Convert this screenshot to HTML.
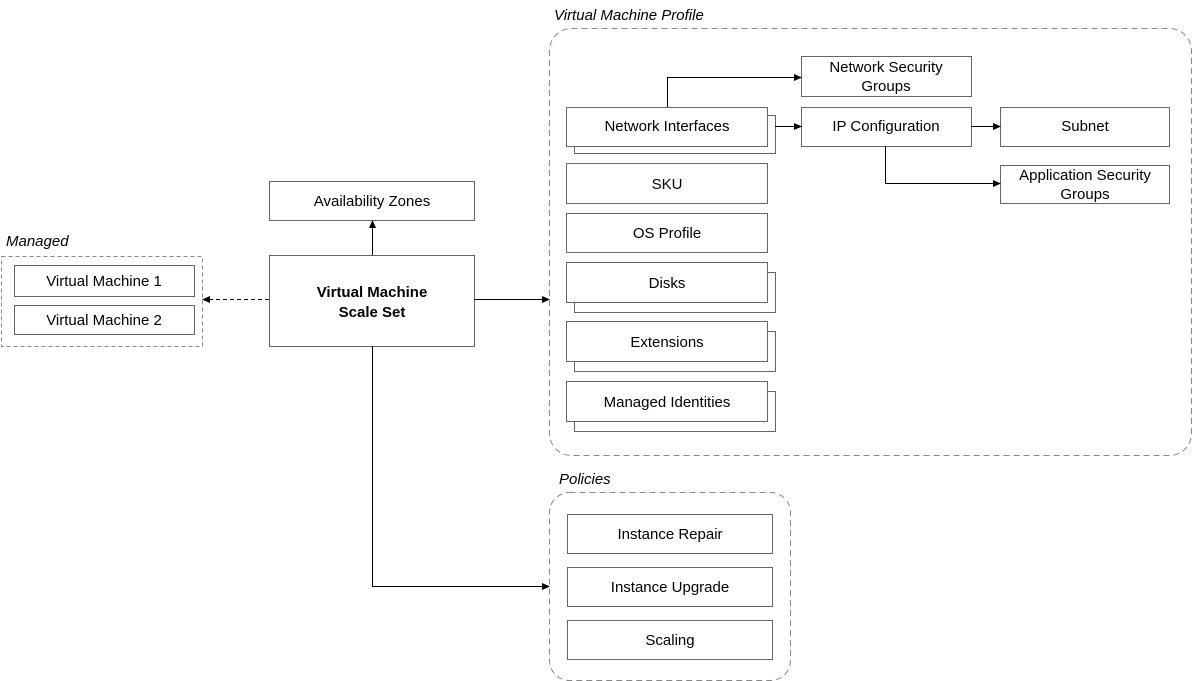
<!DOCTYPE html>
<html><head><style>body{margin:0;background:#fff}svg{display:block}text{font-family:"Liberation Sans",sans-serif;font-size:15px;fill:#000}</style></head>
<body>
<svg width="1193" height="681" viewBox="0 0 1193 681" xmlns="http://www.w3.org/2000/svg">
<defs><marker id="a" markerWidth="8" markerHeight="8" refX="7" refY="4" orient="auto" markerUnits="userSpaceOnUse"><path d="M0,0.5 L8,4 L0,7.5 z" fill="#000"/></marker></defs>
<g fill="#fff" stroke="#666" stroke-width="1">
<rect x="1.5" y="256.5" width="201" height="90" stroke-dasharray="4,3" stroke="#888"/>
<rect x="549.5" y="28.5" width="642" height="427" rx="22" stroke-dasharray="6,4" stroke="#888"/>
<rect x="549.5" y="492.5" width="241" height="188" rx="20" stroke-dasharray="6,4" stroke="#888"/>
<rect x="14.5" y="265.5" width="180" height="31"/>
<rect x="14.5" y="305.5" width="180" height="29"/>
<rect x="269.5" y="181.5" width="205" height="39"/>
<rect x="269.5" y="255.5" width="205" height="91"/>
<rect x="574.5" y="115.5" width="201" height="38"/>
<rect x="566.5" y="107.5" width="201" height="39"/>
<rect x="566.5" y="163.5" width="201" height="40"/>
<rect x="566.5" y="213.5" width="201" height="39"/>
<rect x="574.5" y="272.5" width="201" height="40"/>
<rect x="566.5" y="262.5" width="201" height="40"/>
<rect x="574.5" y="331.5" width="201" height="40"/>
<rect x="566.5" y="321.5" width="201" height="40"/>
<rect x="574.5" y="391.5" width="201" height="40"/>
<rect x="566.5" y="381.5" width="201" height="40"/>
<rect x="801.5" y="56.5" width="170" height="40"/>
<rect x="801.5" y="107.5" width="170" height="39"/>
<rect x="1000.5" y="107.5" width="169" height="39"/>
<rect x="1000.5" y="165.5" width="169" height="38"/>
<rect x="567.5" y="514.5" width="205" height="39"/>
<rect x="567.5" y="567.5" width="205" height="39"/>
<rect x="567.5" y="620.5" width="205" height="39"/>
</g>
<g stroke="#000" fill="none" stroke-width="1">
<path d="M372.5 255 V221" marker-end="url(#a)"/>
<path d="M269 299.5 H203" stroke-dasharray="4,3" marker-end="url(#a)"/>
<path d="M474 299.5 H549" marker-end="url(#a)"/>
<path d="M372.5 346 V586.5 H549" marker-end="url(#a)"/>
<path d="M667.5 107 V77.5 H801" marker-end="url(#a)"/>
<path d="M775 126.5 H801" marker-end="url(#a)"/>
<path d="M971 126.5 H1000" marker-end="url(#a)"/>
<path d="M885.5 146 V183.5 H1000" marker-end="url(#a)"/>
</g>
<g text-anchor="middle">
<text x="104" y="286">Virtual Machine 1</text>
<text x="104" y="325">Virtual Machine 2</text>
<text x="372" y="206">Availability Zones</text>
<text x="372" y="297" font-weight="bold">Virtual Machine</text>
<text x="372" y="317" font-weight="bold">Scale Set</text>
<text x="667" y="131">Network Interfaces</text>
<text x="667" y="189">SKU</text>
<text x="667" y="238">OS Profile</text>
<text x="667" y="288">Disks</text>
<text x="667" y="347">Extensions</text>
<text x="667" y="407">Managed Identities</text>
<text x="886" y="72">Network Security</text>
<text x="886" y="91">Groups</text>
<text x="886" y="131">IP Configuration</text>
<text x="1085" y="131">Subnet</text>
<text x="1085" y="180">Application Security</text>
<text x="1085" y="199">Groups</text>
<text x="670" y="539">Instance Repair</text>
<text x="670" y="592">Instance Upgrade</text>
<text x="670" y="645">Scaling</text>
</g>
<text x="6" y="246" font-style="italic">Managed</text>
<text x="554" y="20" font-style="italic">Virtual Machine Profile</text>
<text x="559" y="484" font-style="italic">Policies</text>
</svg>
</body></html>
